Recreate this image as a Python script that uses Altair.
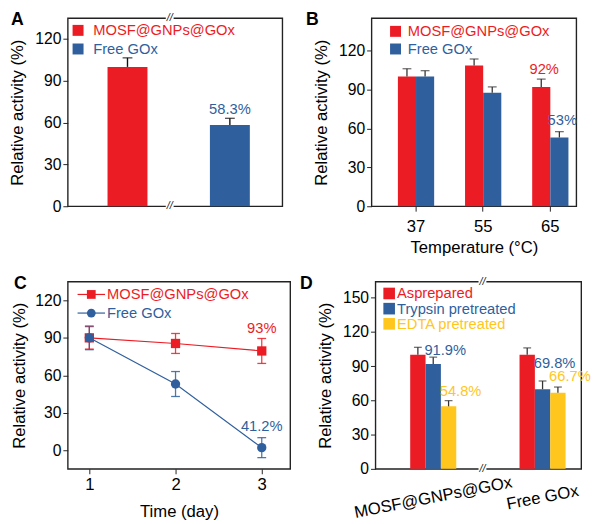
import altair as alt
import pandas as pd

RED = "#EC1C24"
BLUE = "#2F5F9D"
YELLOW = "#FFC61E"
FONT = "Liberation Sans"

# ---------------- data ----------------
# Panel A
a_groups = ["MOSF@GNPs@GOx", "Free GOx"]
a_values = [100, 58.3]
a_errors = [6.5, 4.8]
a_label_text = ["", "58.3%"]
a_label_pos = [None, 66]

# Panel B
b_temps = ["37", "55", "65"]
b_series = ["MOSF@GNPs@GOx", "Free GOx"]
b_mosf = [100, 108.5, 92]
b_mosf_err = [6, 5, 6]
b_free = [100, 87.5, 53]
b_free_err = [4.5, 4.5, 4.5]
b_label_text = ["92%", "53%"]
b_label_pos = [102, 63]

# Panel C
c_days = [1, 2, 3]
c_series = ["MOSF@GNPs@GOx", "Free GOx"]
c_mosf = [90, 85.5, 79.5]
c_mosf_err = [9, 8, 10]
c_free = [90, 53, 2]
c_free_err = [9.5, 10, 8]
c_label_text = ["93%", "41.2%"]
c_label_pos = [93.7, 15.3]

# Panel D
d_groups = ["MOSF@GNPs@GOx", "Free GOx"]
d_series = ["Asprepared", "Trypsin pretreated", "EDTA pretreated"]
d_asprep = [100, 100]
d_asprep_err = [6.5, 6]
d_trypsin = [91.9, 69.8]
d_trypsin_err = [6, 7.2]
d_edta = [54.8, 66.7]
d_edta_err = [5, 5]
d_trypsin_label_pos = [100, 88.8]
d_edta_label_pos = [64, 76.8]

yticks = [0, 30, 60, 90, 120]
yticks_d = [0, 30, 60, 90, 120, 150]


def yaxis(vals=yticks, tpad=8):
    return alt.Axis(values=vals, tickCount=20, title="Relative activity (%)", titleFontSize=17,
                    titleFontWeight="normal", labelFontSize=16, tickSize=5, labelOverlap=False,
                    labelPadding=2, titlePadding=tpad, domain=False, grid=False,
                    tickColor="#222", labelColor="#000", titleColor="#000",
                    labelFont=FONT, titleFont=FONT, zindex=1)


def letter(ch, xoff):
    return alt.Chart(pd.DataFrame({"t": [ch]})).mark_text(
        font=FONT, fontSize=18, fontWeight="bold", align="left", baseline="alphabetic", color="#000"
    ).encode(text="t:N", x=alt.value(xoff), y=alt.value(7))


def breakmark(xfrac, w, h):
    df = pd.DataFrame({"t": ["//"]})
    gap_top = alt.Chart(df).mark_rect(color="white").encode(
        x=alt.value(w * xfrac - 4), x2=alt.value(w * xfrac + 4), y=alt.value(-2), y2=alt.value(2))
    gap_bot = alt.Chart(df).mark_rect(color="white").encode(
        x=alt.value(w * xfrac - 4), x2=alt.value(w * xfrac + 4), y=alt.value(h - 2), y2=alt.value(h + 2))
    t1 = alt.Chart(df).mark_text(font=FONT, fontSize=11, fontStyle="italic", color="#222", baseline="middle").encode(
        text="t:N", x=alt.value(w * xfrac), y=alt.value(0))
    t2 = alt.Chart(df).mark_text(font=FONT, fontSize=11, fontStyle="italic", color="#222", baseline="middle").encode(
        text="t:N", x=alt.value(w * xfrac), y=alt.value(h))
    return [gap_top, gap_bot, t1, t2]


def sq_legend(domain, colors, lx, ly, offset, rowpad):
    cond = " : ".join([f"datum.label == '{d}' ? '{c}'" for d, c in zip(domain[:-1], colors[:-1])]) + f" : '{colors[-1]}'"
    return alt.Legend(orient="none", legendX=lx, legendY=ly, title=None, symbolType="square",
                      symbolSize=125, symbolStrokeWidth=0, labelFontSize=15, labelFont=FONT,
                      labelColor=alt.ExprRef(cond), labelOffset=offset, rowPadding=rowpad, padding=0,
                      symbolOpacity=1)


def grouped_layers(df, xenc, yenc, series, colors, bandwidth, legend, errcolor, capsize, labcfg=None):
    """Bars side by side within each band, one layer set per series."""
    n = len(series)
    bw = bandwidth / n
    layers = []
    cscale = alt.Scale(domain=series, range=colors)
    for i, s in enumerate(series):
        off = (i - (n - 1) / 2) * bw
        base = alt.Chart(df).transform_filter(alt.datum.series == s)
        layers.append(base.mark_bar(width=bw, xOffset=off).encode(
            x=xenc, y=yenc,
            color=alt.Color("series:N", scale=cscale, legend=legend if i == 0 else None)))
        layers.append(base.mark_rule(color=errcolor, strokeWidth=1.3, xOffset=off).encode(
            x=xenc, y="value:Q", y2="upper:Q"))
        layers.append(base.mark_tick(color=errcolor, size=capsize, thickness=1.3, xOffset=off).encode(
            x=xenc, y="upper:Q"))
        if labcfg is not None:
            align, dx = labcfg
            layers.append(base.transform_filter("isValid(datum.lpos)").mark_text(
                font=FONT, fontSize=15, baseline="alphabetic", align=align, xOffset=off + dx, color=colors[i]
            ).encode(x=xenc, y="lpos:Q", text="lab:N"))
    return layers


# ---------------- Panel A ----------------
WA, HA = 219, 192
dfA = pd.DataFrame({"group": a_groups, "value": a_values, "err": a_errors,
                    "lab": a_label_text, "lpos": a_label_pos})
dfA["upper"] = dfA["value"] + dfA["err"]
xA = alt.X("group:N", sort=a_groups, axis=None,
           scale=alt.Scale(paddingInner=0.61, paddingOuter=0.353, align=0.55))
yA = alt.Scale(domain=[0, 135], nice=False)
barsA = alt.Chart(dfA).mark_bar().encode(
    x=xA, y=alt.Y("value:Q", scale=yA, axis=yaxis()),
    color=alt.Color("group:N", scale=alt.Scale(domain=a_groups, range=[RED, BLUE]),
                    legend=sq_legend(a_groups, [RED, BLUE], 3, 5, 8, 3)))
errA = alt.Chart(dfA).mark_rule(color="#111", strokeWidth=1.4).encode(x=xA, y="value:Q", y2="upper:Q")
capA = alt.Chart(dfA).mark_tick(color="#111", size=10, thickness=1.4).encode(x=xA, y="upper:Q")
labA = alt.Chart(dfA).transform_filter("datum.lab != ''").mark_text(
    font=FONT, fontSize=15, color=BLUE, baseline="alphabetic").encode(x=xA, y="lpos:Q", text="lab:N")
chartA = alt.layer(barsA, errA, capA, labA, *breakmark(0.475, WA, HA), letter("A", -58)).properties(width=WA, height=HA)

# ---------------- Panel B ----------------
WB, HB = 209, 192
dfB = pd.DataFrame({
    "temp": b_temps * 2,
    "series": [b_series[0]] * 3 + [b_series[1]] * 3,
    "value": b_mosf + b_free,
    "err": b_mosf_err + b_free_err,
    "lab": ["", "", b_label_text[0], "", "", b_label_text[1]],
    "lpos": [None, None, b_label_pos[0], None, None, b_label_pos[1]],
})
dfB["upper"] = dfB["value"] + dfB["err"]
xB = alt.X("temp:N", sort=b_temps, scale=alt.Scale(paddingInner=0.46, paddingOuter=0.255, align=0.77),
           axis=alt.Axis(title="Temperature (\u00b0C)", labelAngle=0, labelFontSize=17, titleFontSize=17,
                         titleFontWeight="normal", tickSize=5, labelPadding=8, titlePadding=5, domain=False,
                         tickColor="#222", labelColor="#000", titleColor="#000", labelFont=FONT, titleFont=FONT))
yB = alt.Y("value:Q", scale=alt.Scale(domain=[0, 145], nice=False), axis=yaxis())
layersB = grouped_layers(dfB, xB, yB, b_series, [RED, BLUE], 37,
                         sq_legend(b_series, [RED, BLUE], 17, 6, 5, 2), "#333", 9, ("center", 3))
chartB = alt.layer(*layersB, letter("B", -67)).properties(width=WB, height=HB)

# ---------------- Panel C ----------------
WC, HC = 227, 191
dfC = pd.DataFrame({
    "day": c_days * 2,
    "series": [c_series[0]] * 3 + [c_series[1]] * 3,
    "value": c_mosf + c_free,
    "err": c_mosf_err + c_free_err,
})
dfC["lo"] = dfC["value"] - dfC["err"]
dfC["hi"] = dfC["value"] + dfC["err"]
xC = alt.X("day:Q", scale=alt.Scale(domain=[0.75, 3.33], nice=False),
           axis=alt.Axis(values=c_days, format="d", title="Time (day)", labelFontSize=17, titleFontSize=17,
                         titleFontWeight="normal", tickSize=5, labelPadding=3, titlePadding=12, domain=False,
                         grid=False, tickColor="#222", labelColor="#000", titleColor="#000",
                         labelFont=FONT, titleFont=FONT))
yC = alt.Scale(domain=[-15, 135], nice=False)
colC = alt.Color("series:N", scale=alt.Scale(domain=c_series, range=[RED, BLUE]), legend=None)
shpC = alt.Shape("series:N", scale=alt.Scale(domain=c_series, range=["square", "circle"]), legend=None)
errC = alt.Chart(dfC).mark_rule(strokeWidth=1.3, opacity=0.85).encode(
    x=xC, y=alt.Y("lo:Q", scale=yC, axis=yaxis(tpad=6)), y2="hi:Q", color=colC)
capLoC = alt.Chart(dfC).mark_tick(size=9, thickness=1.3, orient="horizontal", opacity=0.85).encode(x=xC, y="lo:Q", color=colC)
capHiC = alt.Chart(dfC).mark_tick(size=9, thickness=1.3, orient="horizontal", opacity=0.85).encode(x=xC, y="hi:Q", color=colC)
lineC = alt.Chart(dfC).mark_line(strokeWidth=1.2).encode(x=xC, y="value:Q", color=colC, detail="series:N")
ptsC = alt.Chart(dfC).mark_point(filled=True, size=90, opacity=1).encode(x=xC, y="value:Q", color=colC, shape=shpC)
dfCl = pd.DataFrame({"day": [c_days[2], c_days[2]], "series": c_series, "lab": c_label_text, "lpos": c_label_pos})
labC = alt.Chart(dfCl).mark_text(font=FONT, fontSize=15, baseline="alphabetic").encode(
    x=xC, y="lpos:Q", text="lab:N", color=colC)
legC = []
for i, (s, c, shp) in enumerate(zip(c_series, [RED, BLUE], ["square", "circle"])):
    dl = pd.DataFrame({"series": [s]})
    yy = 13 + 19 * i
    legC.append(alt.Chart(dl).mark_rule(color=c, strokeWidth=1.2).encode(
        x=alt.value(10), x2=alt.value(38), y=alt.value(yy)))
    legC.append(alt.Chart(dl).mark_point(filled=True, size=80, shape=shp, color=c, opacity=1).encode(
        x=alt.value(24), y=alt.value(yy)))
    legC.append(alt.Chart(dl).mark_text(font=FONT, fontSize=15, color=c, align="left", baseline="middle").encode(
        x=alt.value(40), y=alt.value(yy), text="series:N"))
chartC = alt.layer(errC, capLoC, capHiC, lineC, ptsC, labC, *legC, letter("C", -55)).properties(width=WC, height=HC)

# ---------------- Panel D ----------------
WD, HD = 210, 191
dfD = pd.DataFrame({
    "group": d_groups * 3,
    "series": [d_series[0]] * 2 + [d_series[1]] * 2 + [d_series[2]] * 2,
    "value": d_asprep + d_trypsin + d_edta,
    "err": d_asprep_err + d_trypsin_err + d_edta_err,
    "lpos": [None, None] + d_trypsin_label_pos + d_edta_label_pos,
})
dfD["upper"] = dfD["value"] + dfD["err"]
dfD["lab"] = dfD["value"].map(lambda v: f"{v:.1f}%")
xD = alt.X("group:N", sort=d_groups, scale=alt.Scale(paddingInner=0.578, paddingOuter=0.23, align=0.69),
           axis=alt.Axis(title=None, labelAngle=-11, labelAlign="center", labelBaseline="middle",
                         labelFontSize=17, ticks=False, labelPadding=29, domain=False,
                         labelColor="#000", labelFont=FONT))
yD = alt.Y("value:Q", scale=alt.Scale(domain=[0, 164], nice=False), axis=yaxis(yticks_d))
layersD = grouped_layers(dfD, xD, yD, d_series, [RED, BLUE, YELLOW], 47,
                         None, "#333", 8, ("left", -9))
# legend for panel D drawn as marks (square + coloured label per series)
legD = []
for i, (s, c) in enumerate(zip(d_series, [RED, BLUE, YELLOW])):
    dl = pd.DataFrame({"series": [s]})
    yy = 12 + 15.5 * i
    legD.append(alt.Chart(dl).mark_square(size=140, color=c, opacity=1).encode(
        x=alt.value(14), y=alt.value(yy)))
    legD.append(alt.Chart(dl).mark_text(font=FONT, fontSize=15, color=c, align="left", baseline="middle").encode(
        x=alt.value(22), y=alt.value(yy), text="series:N"))
chartD = alt.layer(*layersD, *legD, *breakmark(0.52, WD, HD), letter("D", -77)).properties(width=WD, height=HD)

top = alt.hconcat(chartA, chartB, spacing=22).resolve_scale(color="independent", x="independent", y="independent")
bottom = alt.hconcat(chartC, chartD, spacing=8).resolve_scale(color="independent", x="independent", y="independent", shape="independent")
chart = alt.vconcat(top, bottom, spacing=18).resolve_scale(
    color="independent", x="independent", y="independent", shape="independent"
).configure_view(
    stroke="#222", strokeWidth=1.4
).properties(padding={"left": 0, "top": -3, "right": 0, "bottom": 0})

chart.save("out.html", embed_options={"renderer": "svg", "actions": False})
